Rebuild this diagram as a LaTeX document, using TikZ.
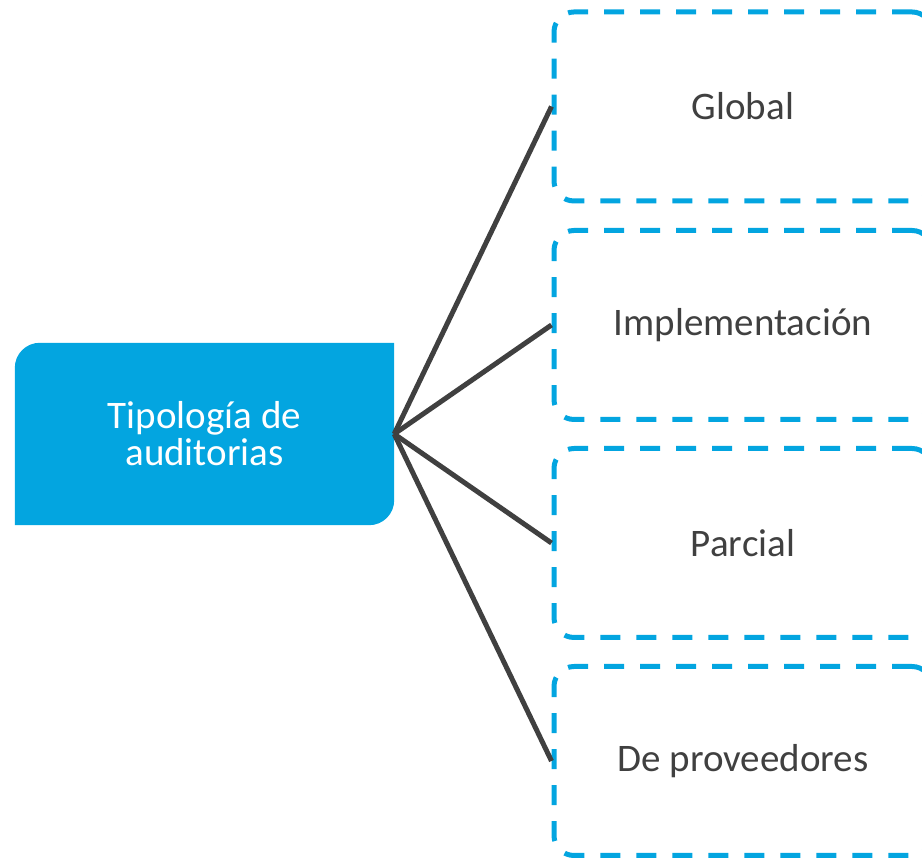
\documentclass[tikz,border=0pt]{standalone}
\usepackage{fontspec}
\setmainfont{Carlito}
\usetikzlibrary{backgrounds}
\definecolor{audblue}{RGB}{3,165,224}
\definecolor{audgray}{RGB}{64,64,64}
\begin{document}
\begin{tikzpicture}[x=1pt,y=1pt,
		typbox/.style={minimum width=379pt,minimum height=182pt,inner sep=0pt,
			align=center,text=white,font=\fontsize{39}{37}\selectfont},
		kindbox/.style={draw=audblue,line width=5pt,dash pattern=on 20pt off 16pt,
			rounded corners=20pt,minimum width=378pt,minimum height=189pt,
			text=audgray,font=\fontsize{39}{37}\selectfont},
		link/.style={draw=audgray,line width=5pt}]
	\useasboundingbox (0,0) rectangle (922,858);
	\node[typbox](typ) at (204.5,424) {Tipología de\\auditorias};
	\begin{scope}[on background layer]
		\fill[audblue] (typ.south west) -- ([yshift=-25pt]typ.north west)
		arc[start angle=180,end angle=90,radius=25pt] -- (typ.north east)
		-- ([yshift=25pt]typ.south east)
		arc[start angle=0,end angle=-90,radius=25pt] -- cycle;
	\end{scope}
	\node[kindbox](glob) at (743,751.5) {Global};
	\node[kindbox](impl) at (743,533) {Implementación};
	\node[kindbox](parc) at (743,315) {Parcial};
	\node[kindbox](prov) at (743,97) {De proveedores};
	\foreach \k in {glob,impl,parc,prov}
		\draw[link] (typ.east) -- (\k.west);
\end{tikzpicture}
\end{document}
